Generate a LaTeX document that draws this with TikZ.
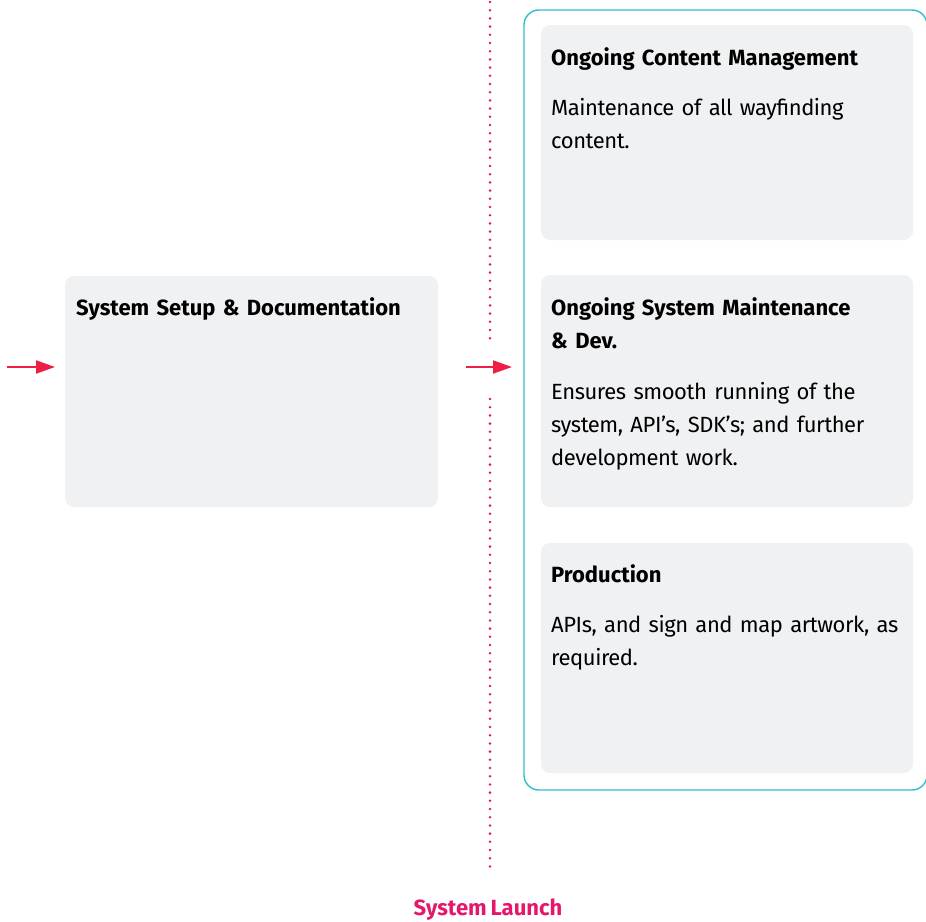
\documentclass[tikz,border=0pt]{standalone}
\usepackage{fontspec}
\setmainfont{Fira Sans}
\newfontfamily\bodyfont[LetterSpace=-2.0]{Fira Sans}
\newfontfamily\titlefont{Fira Sans}
\newcommand{\bodyspace}{\spaceskip=0.16em plus 0.05em minus 0.02em\relax}
\newcommand{\titlespace}{\spaceskip=0.18em plus 0.05em minus 0.02em\relax}
\usetikzlibrary{arrows.meta}
\definecolor{boxfill}{HTML}{F0F1F3}
\definecolor{teal}{HTML}{2CC0CB}
\definecolor{arrowred}{HTML}{EE1F45}
\definecolor{dotred}{HTML}{E8194F}
\definecolor{launch}{HTML}{E3186A}
\tikzset{
  card/.style={fill=boxfill, rounded corners=9pt},
  ttl/.style={anchor=base west, inner sep=0pt, text width=420pt, align=left,
    font=\titlefont\fontsize{22}{33}\selectfont\bfseries\titlespace},
  body/.style={anchor=base west, inner sep=0pt, text width=420pt, align=left,
    font=\bodyfont\fontsize{22}{33}\selectfont\bodyspace},
  flow/.style={draw=arrowred, line width=2pt, -{Triangle[length=19pt,width=13pt]}},
  dotline/.style={draw=dotred, line width=2.8pt, line cap=round, dash pattern=on 0pt off 8.2pt},
}
\begin{document}
\begin{tikzpicture}[x=1pt,y=-1pt]
\useasboundingbox (0,0) rectangle (926,921);
% container
\draw[teal, line width=1.4pt, rounded corners=15pt] (524,10) rectangle (927,790);
% cards
\path[card] (65,276) rectangle (438,507);
\path[card] (541,25) rectangle (913,240);
\path[card] (541,275) rectangle (913,507);
\path[card] (541,543) rectangle (913,773);
% texts
\node[ttl] (t0) at (76,315) {System Setup \& Documentation};
\node[ttl] (t1) at (551,65) {Ongoing Content Management};
\node[body] (b1) at (551,115) {Maintenance of all wayfinding\\content.};
\node[ttl] (t2) at (551,315) {Ongoing System Maintenance\\\& Dev.};
\node[body] (b2) at (551,399) {Ensures smooth running of the\\system, API’s, SDK’s; and further\\development work.};
\node[ttl] (t3) at (551,582) {Production};
\node[body] (b3) at (551,632) {APIs, and sign and map artwork, as\\required.};
\node[anchor=base, inner sep=0pt, text=launch, font=\titlefont\fontsize{22}{26}\selectfont\bfseries\titlespace] (launch) at (488,915) {System Launch};
% dotted divider
\coordinate (d0) at (490,2);
\coordinate (d1) at (490,342);
\coordinate (d2) at (490,399);
\coordinate (d3) at (490,874);
\path[dotline] (d0) -- (d1);
\path[dotline] (d2) -- (d3);
% arrows
\coordinate (a0) at (7,367);
\coordinate (a1) at (55,367);
\coordinate (m0) at (466,367);
\coordinate (m1) at (512,367);
\path[flow] (a0) -- (a1);
\path[flow] (m0) -- (m1);
\end{tikzpicture}
\end{document}
